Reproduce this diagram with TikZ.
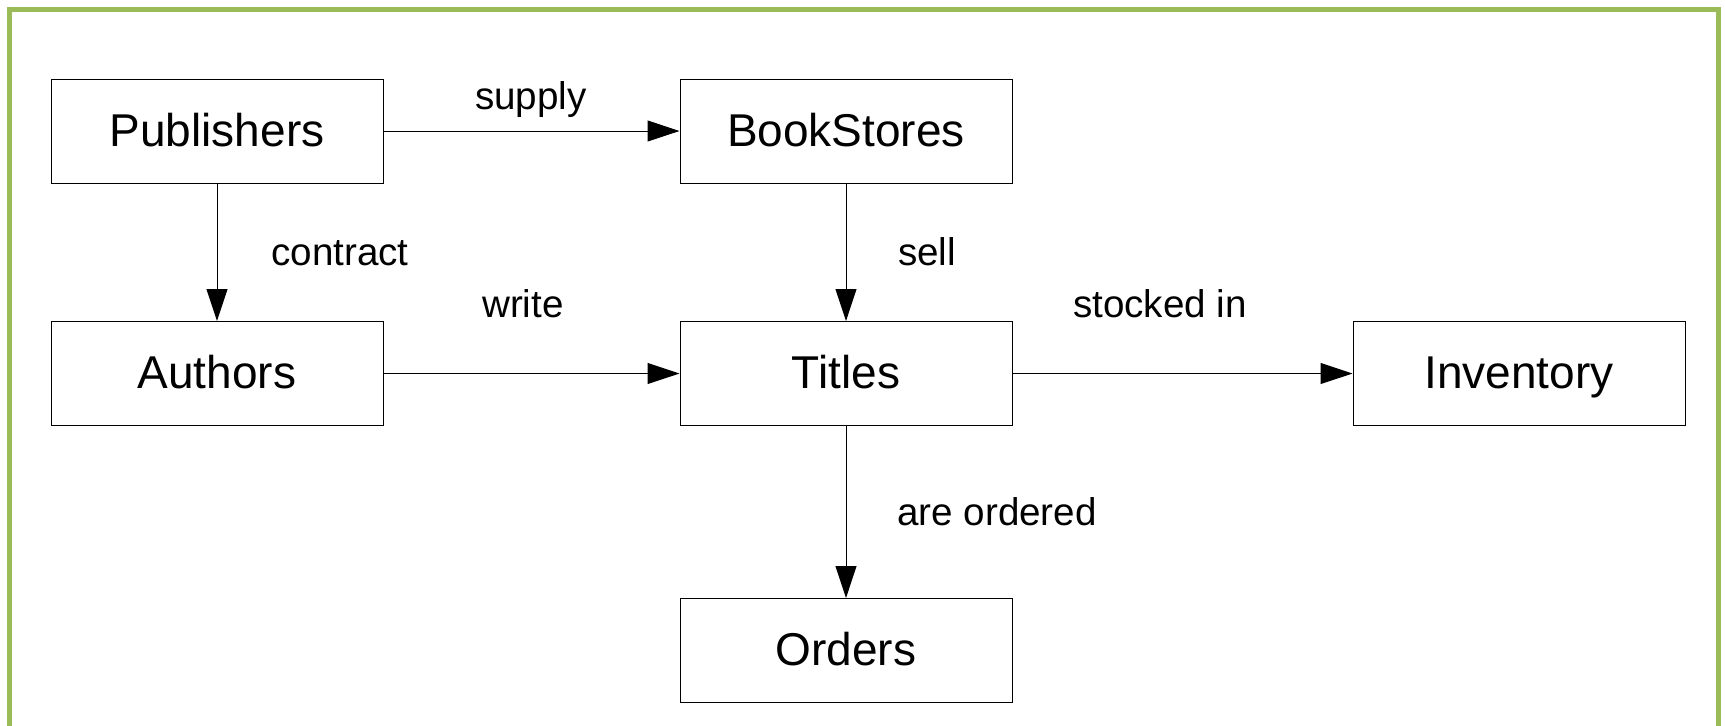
\documentclass[tikz,border=0pt]{standalone}
\usepackage{fontspec}
\setmainfont{Liberation Sans}
\usepackage{tikz}
\usetikzlibrary{arrows.meta}
\usetikzlibrary{positioning}
\definecolor{framegreen}{HTML}{9BBB59}
\tikzset{
    entity/.style={draw=black, line width=0.5pt, minimum width=166pt, minimum height=52pt,
        inner sep=0pt, text height=16pt, text depth=1pt, font=\fontsize{23}{27}\selectfont},
    relation/.style={anchor=base, inner sep=0pt, font=\fontsize{19.3}{23}\selectfont},
    link/.style={draw=black, line width=0.5pt, -{Triangle[length=16pt,width=10.5pt]}},
}
\begin{document}
\begin{tikzpicture}[x=0.5pt, y=-0.5pt]
    \useasboundingbox (0,0) rectangle (1725,725);
    \draw[framegreen, line width=2.5pt] (9,760) -- (9,9) -- (1718,9) -- (1718,760);
    % entities
    \node[entity] (publishers) at (217,131) {Publishers};
    \node[entity] (bookstores) at (846,131) {BookStores};
    \node[entity] (authors) at (217,373.5) {Authors};
    \node[entity] (titles) at (846,373.5) {Titles};
    \node[entity] (inventory) at (1519,373.5) {Inventory};
    \node[entity] (orders) at (846,650.5) {Orders};
    % relations
    \draw[link] (publishers) -- (bookstores);
    \draw[link] (publishers) -- (authors);
    \draw[link] (bookstores) -- (titles);
    \draw[link] (authors) -- (titles);
    \draw[link] (titles) -- (inventory);
    \draw[link] (titles) -- (orders);
    \node[relation] (supply) at (531,109) {supply};
    \node[relation] (contract) at (340,265) {contract};
    \node[relation] (write) at (523,317) {write};
    \node[relation] (sell) at (927,265) {sell};
    \node[relation] (stocked) at (1160,317) {stocked in};
    \node[relation] (ordered) at (997,525) {are ordered};
\end{tikzpicture}
\end{document}
